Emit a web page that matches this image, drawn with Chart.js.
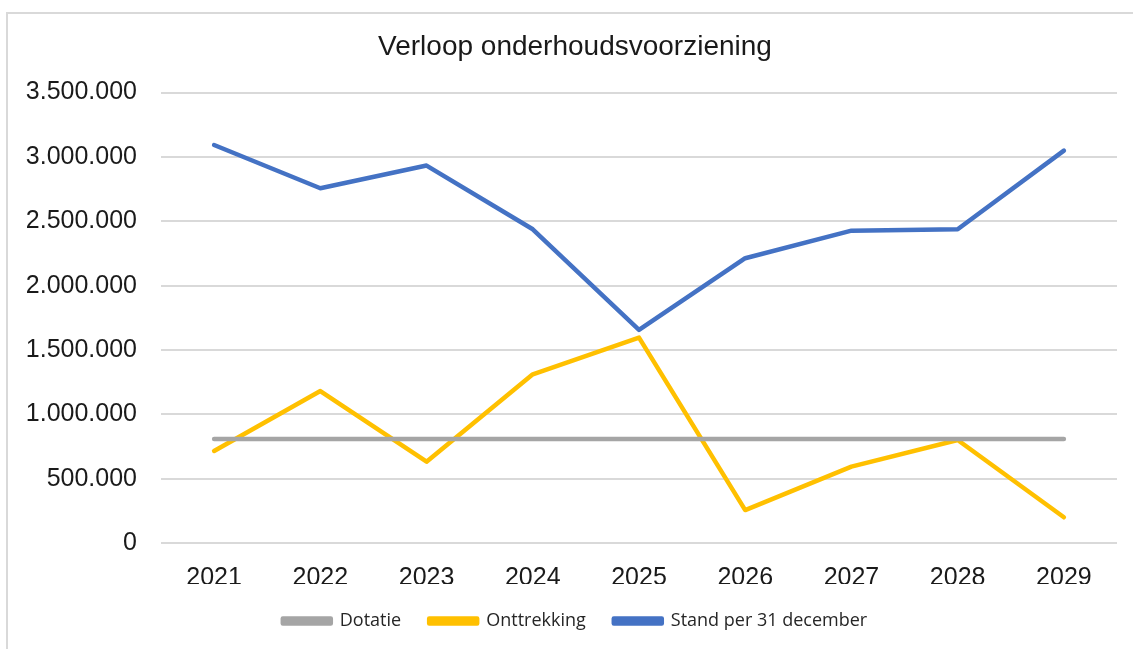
<!DOCTYPE html>
<html lang="nl">
<head>
<meta charset="utf-8">
<title>Verloop onderhoudsvoorziening</title>
<script src="https://cdn.jsdelivr.net/npm/chart.js@4/dist/chart.umd.min.js"></script>
<style>
  html, body { margin: 0; padding: 0; background: #fff; }
  #frame {
    position: absolute;
    left: 6px; top: 12px;
    width: 1200px; height: 700px;
    border-top: 2px solid #d9d9d9;
    border-left: 2px solid #d9d9d9;
  }
  #wrap { position: absolute; left: 0; top: 0; width: 1133px; height: 649px; }
</style>
</head>
<body>
<div id="frame"></div>
<div id="wrap"><canvas id="voorzieningChart"></canvas></div>
<script>
// ------------------------------------------------------------
// DATA
// ------------------------------------------------------------
const years = ["2021", "2022", "2023", "2024", "2025", "2026", "2027", "2028", "2029"];

const dotatie     = [808000, 808000, 808000, 808000, 808000, 808000, 808000, 808000, 808000];
const onttrekking = [715000, 1181000, 632000, 1311000, 1596000, 256000, 593000, 800000, 200000];
const stand       = [3093000, 2757000, 2933000, 2438000, 1656000, 2213000, 2427000, 2438000, 3049000];

const yTicks = [0, 500000, 1000000, 1500000, 2000000, 2500000, 3000000, 3500000];

// dutch thousands separator: 3500000 -> "3.500.000"
function fmt(v) {
  return String(v).replace(/\B(?=(\d{3})+(?!\d))/g, ".");
}

function lineSet(label, data, color) {
  return {
    label,
    data,
    borderColor: color,
    backgroundColor: color,
    borderWidth: 4.5,
    borderCapStyle: "round",
    borderJoinStyle: "round",
    pointRadius: 0,
    tension: 0
  };
}

// title and legend sit a bit right of the canvas centre
const centreShift = {
  id: "centreShift",
  afterLayout(chart) {
    if (chart.titleBlock) chart.titleBlock.left += 33;
    if (chart.legend) chart.legend.left += 33;
  }
};

// ------------------------------------------------------------
// CHART
// ------------------------------------------------------------
const ctx = document.getElementById("voorzieningChart");

new Chart(ctx, {
  type: "line",
  data: {
    labels: years,
    datasets: [
      lineSet("Dotatie", dotatie, "#a5a5a5"),
      lineSet("Onttrekking", onttrekking, "#ffc000"),
      lineSet("Stand per 31 december", stand, "#4472c4")
    ]
  },
  plugins: [centreShift],
  options: {
    responsive: true,
    maintainAspectRatio: false,
    animation: false,
    layout: { padding: { left: 0, right: 16, top: 0, bottom: 9 } },
    plugins: {
      title: {
        display: true,
        text: "Verloop onderhoudsvoorziening",
        color: "#1a1a1a",
        font: { family: "'Liberation Sans', Arial, sans-serif", size: 28, weight: "normal" },
        padding: { top: 30, bottom: 29 }
      },
      legend: {
        position: "bottom",
        labels: {
          color: "#262626",
          font: { family: "'Open Sans', sans-serif", size: 18 },
          boxWidth: 48,
          boxHeight: 5,
          padding: 28
        }
      },
      tooltip: { enabled: false }
    },
    scales: {
      x: {
        offset: true,
        grid: { display: false },
        border: { display: false },
        ticks: {
          color: "#1a1a1a",
          font: { family: "'Liberation Sans', Arial, sans-serif", size: 25 },
          padding: 12,
          maxRotation: 0
        },
        afterFit: s => { s.height = 41; }
      },
      y: {
        min: 0,
        max: 3500000,
        afterBuildTicks: s => { s.ticks = yTicks.map(v => ({ value: v })); },
        grid: { color: "#d9d9d9", lineWidth: 2, drawTicks: false },
        border: { display: false },
        ticks: {
          color: "#1a1a1a",
          font: { family: "'Liberation Sans', Arial, sans-serif", size: 25 },
          padding: 24,
          callback: v => fmt(v)
        },
        afterFit: s => { s.width = 161; }
      }
    }
  }
});
</script>
</body>
</html>
